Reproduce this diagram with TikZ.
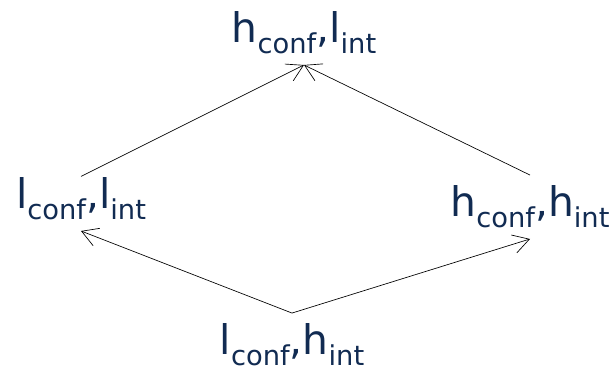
\documentclass[tikz,border=0pt]{standalone}
\usepackage{fontspec}
\setmainfont{DejaVu Sans}
\usetikzlibrary{arrows.meta}
\definecolor{navytext}{RGB}{17,43,82}
\newcommand{\lowsub}[1]{\raisebox{-8pt}{\fontsize{20.5pt}{24pt}\selectfont #1}}
\begin{document}
\begin{tikzpicture}[x=0.75pt, y=-0.75pt,
    lvl/.style={anchor=base, inner sep=8pt, text=navytext, font=\fontsize{30.6pt}{36pt}\selectfont},
    arr/.style={-{Straight Barb[length=12pt, width=14pt]}, line width=0.5pt}]
    \useasboundingbox (0,0) rectangle (615,373);
    % 1. 四个格点 (基线位置)
    \node[lvl] (top)    at (304,43)  {h\lowsub{conf},l\lowsub{int}};
    \node[lvl] (left)   at (81,209)  {l\lowsub{conf},l\lowsub{int}};
    \node[lvl] (right)  at (530,217) {h\lowsub{conf},h\lowsub{int}};
    \node[lvl, inner sep=2pt] (bottom) at (292,355) {l\lowsub{conf},h\lowsub{int}};

    % 2. 序关系箭头
    \draw[arr] ([yshift=-7pt]left.north) -- (top.south);
    \draw[arr] (right.north) -- (top.south);
    \draw[arr] ([yshift=6pt]bottom.north) -- (left.south);
    \draw[arr] ([yshift=6pt]bottom.north) -- (right.south);
\end{tikzpicture}
\end{document}
